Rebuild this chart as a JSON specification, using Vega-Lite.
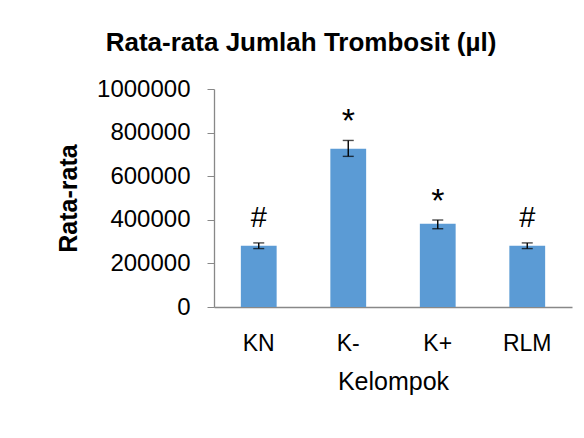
{
  "$schema": "https://vega.github.io/schema/vega-lite/v6.json",
  "autosize": {"type": "none"},
  "width": 358,
  "height": 218,
  "padding": {"left": 214, "top": 89, "right": 12, "bottom": 131},
  "background": "white",
  "title": {
    "text": "Rata-rata Jumlah Trombosit (µl)",
    "font": "Liberation Sans",
    "fontSize": 26,
    "fontWeight": "bold",
    "color": "black",
    "anchor": "middle",
    "frame": "group",
    "dx": -92,
    "offset": 21
  },
  "data": {
    "values": [
      {"group": "KN", "mean": 281000, "lower": 268000, "upper": 294000, "sig": "#"},
      {"group": "K-", "mean": 726000, "lower": 691000, "upper": 764000, "sig": "*"},
      {"group": "K+", "mean": 382000, "lower": 359000, "upper": 399000, "sig": "*"},
      {"group": "RLM", "mean": 281000, "lower": 268000, "upper": 294000, "sig": "#"}
    ]
  },
  "encoding": {
    "x": {
      "field": "group",
      "type": "nominal",
      "sort": ["KN", "K-", "K+", "RLM"],
      "scale": {"paddingInner": 0.6, "paddingOuter": 0.3},
      "axis": {
        "title": "Kelompok",
        "labelAngle": 0,
        "labelFont": "Liberation Sans",
        "labelFontSize": 23,
        "labelColor": "black",
        "labelPadding": 25,
        "ticks": false,
        "domainColor": "#888888",
        "domainWidth": 1.3,
        "titleFont": "Liberation Sans",
        "titleFontSize": 25,
        "titleFontWeight": "normal",
        "titleColor": "black",
        "titlePadding": 14
      }
    }
  },
  "layer": [
    {
      "mark": {"type": "bar", "color": "#5b9bd5"},
      "encoding": {
        "y": {
          "field": "mean",
          "type": "quantitative",
          "title": "Rata-rata",
          "scale": {"domain": [0, 1000000]},
          "axis": {
            "values": [0, 200000, 400000, 600000, 800000, 1000000],
            "format": "d",
            "grid": false,
            "labelFont": "Liberation Sans",
            "labelFontSize": 24,
            "labelColor": "black",
            "labelPadding": 17,
            "tickSize": 7,
            "tickColor": "#888888",
            "domainColor": "#888888",
            "domainWidth": 1.3,
            "titleFont": "Liberation Sans",
            "titleFontSize": 25,
            "titleFontWeight": "bold",
            "titleColor": "black",
            "titlePadding": 15
          }
        }
      }
    },
    {
      "mark": {"type": "errorbar", "color": "black", "thickness": 1.4, "ticks": {"size": 11, "color": "black", "thickness": 1.4}},
      "encoding": {
        "y": {"field": "lower", "type": "quantitative", "title": "Rata-rata"},
        "y2": {"field": "upper"}
      }
    },
    {
      "transform": [{"filter": "datum.sig === '#'"}],
      "mark": {"type": "text", "font": "Liberation Sans", "fontSize": 29, "baseline": "alphabetic", "dy": -16, "color": "black"},
      "encoding": {
        "y": {"field": "upper", "type": "quantitative", "title": "Rata-rata"},
        "text": {"field": "sig"}
      }
    },
    {
      "transform": [{"filter": "datum.sig === '*'"}],
      "mark": {"type": "text", "font": "Liberation Sans", "fontSize": 34, "baseline": "alphabetic", "dy": -8, "color": "black"},
      "encoding": {
        "y": {"field": "upper", "type": "quantitative", "title": "Rata-rata"},
        "text": {"field": "sig"}
      }
    }
  ],
  "config": {"view": {"stroke": null}}
}
